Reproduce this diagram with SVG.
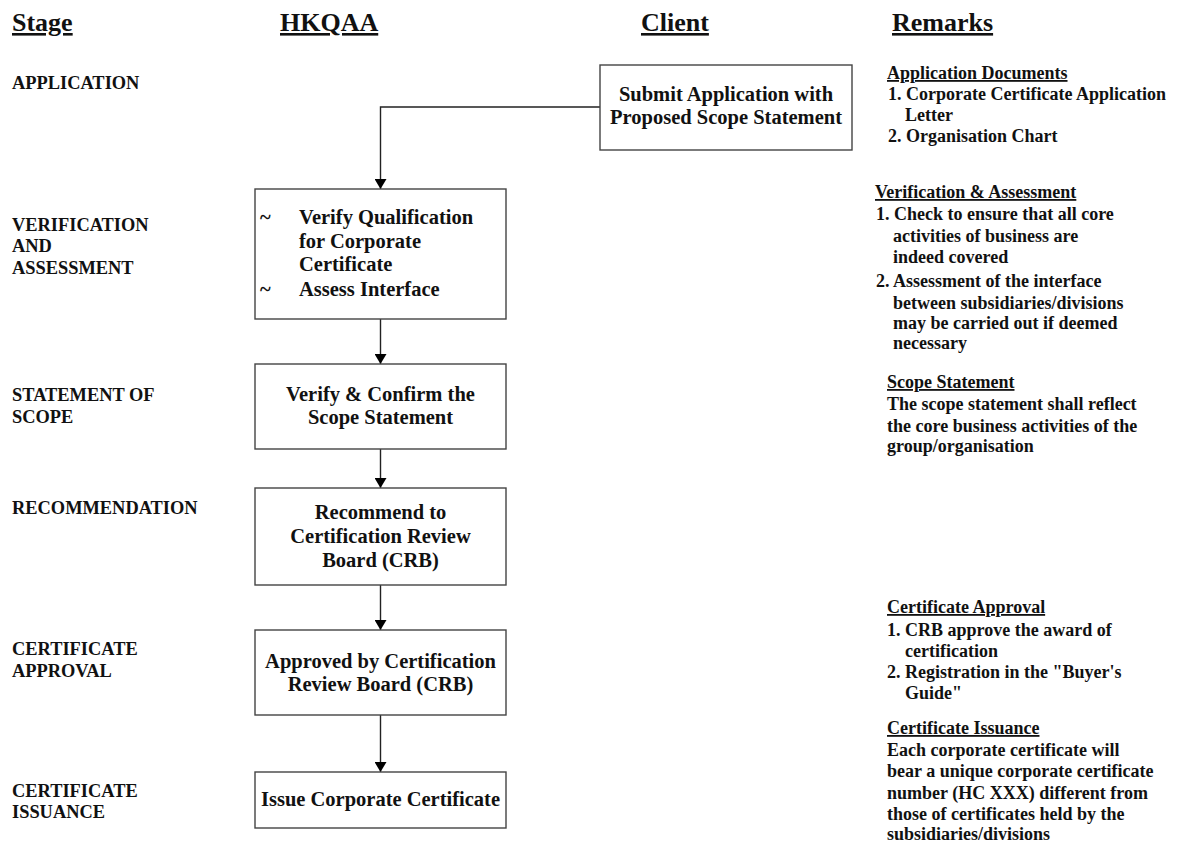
<svg xmlns="http://www.w3.org/2000/svg" width="1178" height="843" viewBox="0 0 1178 843">
<style>
text{font-family:"Liberation Serif","Times New Roman",serif;font-weight:bold;fill:#111}
.hdr{font-size:26px;text-decoration:underline}
.stg{font-size:18.4px}
.box{fill:#fff;stroke:#444;stroke-width:1.4}
.bt{font-size:20.5px;text-anchor:middle}
.bl{font-size:20.5px}
.rm{font-size:18px}
.rh{font-size:18px;text-decoration:underline}
.con{fill:none;stroke:#222;stroke-width:1.4}
</style>
<defs>
<marker id="arr" viewBox="0 0 10 12" refX="10" refY="6" markerWidth="10" markerHeight="12" markerUnits="userSpaceOnUse" orient="auto">
<path d="M0,0 L10,6 L0,12 z" fill="#000"/>
</marker>
</defs>
<rect width="1178" height="843" fill="#fff"/>

<g id="headers">
<text class="hdr" x="12" y="31">Stage</text>
<text class="hdr" x="280" y="31">HKQAA</text>
<text class="hdr" x="641" y="31">Client</text>
<text class="hdr" x="892" y="31">Remarks</text>
</g>

<g id="stages">
<text class="stg" x="12" y="89">APPLICATION</text>
<text class="stg" x="12" y="231">VERIFICATION</text>
<text class="stg" x="12" y="252">AND</text>
<text class="stg" x="12" y="274">ASSESSMENT</text>
<text class="stg" x="12" y="401">STATEMENT OF</text>
<text class="stg" x="12" y="423">SCOPE</text>
<text class="stg" x="12" y="514">RECOMMENDATION</text>
<text class="stg" x="12" y="655">CERTIFICATE</text>
<text class="stg" x="12" y="677">APPROVAL</text>
<text class="stg" x="12" y="797">CERTIFICATE</text>
<text class="stg" x="12" y="818">ISSUANCE</text>
</g>

<g id="connectors">
<path class="con" d="M600,107 H380.5 V189" marker-end="url(#arr)"/>
<path class="con" d="M380.5,319 V364" marker-end="url(#arr)"/>
<path class="con" d="M380.5,449 V488" marker-end="url(#arr)"/>
<path class="con" d="M380.5,585 V630" marker-end="url(#arr)"/>
<path class="con" d="M380.5,715 V772" marker-end="url(#arr)"/>
</g>

<g id="node-submit">
<rect class="box" x="600" y="65" width="252" height="85"/>
<text class="bt" x="726" y="101">Submit Application with</text>
<text class="bt" x="726" y="124">Proposed Scope Statement</text>
</g>

<g id="node-verify">
<rect class="box" x="255" y="189" width="251" height="130"/>
<text class="bl" x="260" y="224">~</text>
<text class="bl" x="299" y="224">Verify Qualification</text>
<text class="bl" x="299" y="248">for Corporate</text>
<text class="bl" x="299" y="271">Certificate</text>
<text class="bl" x="260" y="296">~</text>
<text class="bl" x="299" y="296">Assess Interface</text>
</g>

<g id="node-scope">
<rect class="box" x="255" y="364" width="251" height="85"/>
<text class="bt" x="380.5" y="401">Verify &amp; Confirm the</text>
<text class="bt" x="380.5" y="424">Scope Statement</text>
</g>

<g id="node-recommend">
<rect class="box" x="255" y="488" width="251" height="97"/>
<text class="bt" x="380.5" y="519">Recommend to</text>
<text class="bt" x="380.5" y="543">Certification Review</text>
<text class="bt" x="380.5" y="567">Board (CRB)</text>
</g>

<g id="node-approved">
<rect class="box" x="255" y="630" width="251" height="85"/>
<text class="bt" x="380.5" y="668">Approved by Certification</text>
<text class="bt" x="380.5" y="691">Review Board (CRB)</text>
</g>

<g id="node-issue">
<rect class="box" x="255" y="772" width="251" height="56"/>
<text class="bt" x="380.5" y="806">Issue Corporate Certificate</text>
</g>

<g id="remarks">
<text class="rh" x="887" y="79">Application Documents</text>
<text class="rm" x="888" y="100">1. Corporate Certificate Application</text>
<text class="rm" x="905" y="121">Letter</text>
<text class="rm" x="888" y="142">2. Organisation Chart</text>

<text class="rh" x="875" y="198">Verification &amp; Assessment</text>
<text class="rm" x="876" y="220">1. Check to ensure that all core</text>
<text class="rm" x="893" y="242">activities of business are</text>
<text class="rm" x="893" y="263">indeed covered</text>
<text class="rm" x="876" y="287">2. Assessment of the interface</text>
<text class="rm" x="893" y="309">between subsidiaries/divisions</text>
<text class="rm" x="893" y="329">may be carried out if deemed</text>
<text class="rm" x="893" y="349">necessary</text>

<text class="rh" x="887" y="388">Scope Statement</text>
<text class="rm" x="887" y="410">The scope statement shall reflect</text>
<text class="rm" x="887" y="432">the core business activities of the</text>
<text class="rm" x="887" y="452">group/organisation</text>

<text class="rh" x="887" y="613">Certificate Approval</text>
<text class="rm" x="887" y="636">1. CRB approve the award of</text>
<text class="rm" x="905" y="657">certification</text>
<text class="rm" x="887" y="678">2. Registration in the "Buyer's</text>
<text class="rm" x="905" y="699">Guide"</text>

<text class="rh" x="887" y="734">Certificate Issuance</text>
<text class="rm" x="887" y="756">Each corporate certificate will</text>
<text class="rm" x="887" y="777">bear a unique corporate certificate</text>
<text class="rm" x="887" y="799">number (HC XXX) different from</text>
<text class="rm" x="887" y="820">those of certificates held by the</text>
<text class="rm" x="887" y="840">subsidiaries/divisions</text>
</g>
</svg>
